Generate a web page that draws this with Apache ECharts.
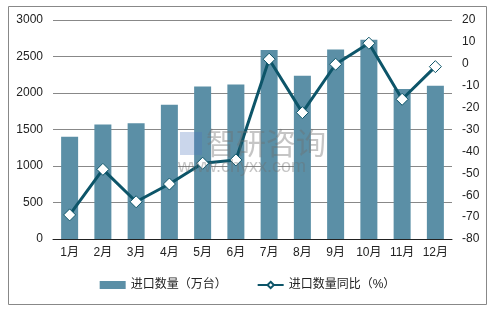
<!DOCTYPE html>
<html><head><meta charset="utf-8">
<script src="https://cdn.jsdelivr.net/npm/echarts@6/dist/echarts.min.js"></script>
<style>html,body{margin:0;padding:0;background:#fff}#c{width:495px;height:310px}</style>
</head><body><div id="c"></div>
<script>
const categories = ['1月','2月','3月','4月','5月','6月','7月','8月','9月','10月','11月','12月'];
const importQty = [1400, 1570, 1585, 1840, 2090, 2115, 2590, 2235, 2595, 2730, 2055, 2100];
const importYoY = [-69, -48.2, -63, -54.9, -45.4, -43.9, 2.1, -22.3, -0.2, 9.4, -16.2, -1.3];
const leftTicks = {min: 0, max: 3000, interval: 500};
const rightTicks = {min: -80, max: 20, interval: 10};
const seriesNames = ['进口数量（万台）', '进口数量同比（%）'];

const font = 'Arial, "Noto Sans CJK SC", sans-serif';
const chart = echarts.init(document.getElementById('c'));
chart.setOption({
  animation: false,
  backgroundColor: '#fff',
  graphic: [
    {type: 'rect', shape: {x: 8.5, y: 6.5, width: 478, height: 298}, style: {fill: 'none', stroke: '#888', lineWidth: 1}, z: -1},
    {type: 'text', left: 206, top: 128, style: {text: '智研咨询', font: '30px "Noto Sans CJK SC"', fill: 'rgba(110,110,110,0.4)'}, z: 100},
    {type: 'text', left: 178, top: 158, style: {text: 'www.chyxx.com', font: '18px Arial', fill: 'rgba(110,110,110,0.4)'}, z: 100},
    {type: 'rect', shape: {x: 180, y: 132, width: 22, height: 23}, style: {fill: 'rgba(80,120,190,0.3)'}, z: 100}
  ],
  grid: {left: 53, right: 43, top: 20, bottom: 71},
  legend: {
    bottom: 14, left: 'center', itemGap: 30, itemWidth: 26, itemHeight: 8,
    textStyle: {fontSize: 12, color: '#222', fontFamily: font},
    data: [
      {name: seriesNames[0], icon: 'rect'},
      {name: seriesNames[1]}
    ]
  },
  xAxis: {
    type: 'category', data: categories,
    axisLine: {lineStyle: {color: '#222', width: 1}},
    axisTick: {show: false},
    axisLabel: {color: '#222', fontSize: 12, fontFamily: font, margin: 8}
  },
  yAxis: [
    {type: 'value', min: leftTicks.min, max: leftTicks.max, interval: leftTicks.interval,
     axisLine: {show: false}, axisTick: {show: false},
     axisLabel: {color: '#222', fontSize: 12, fontFamily: font, margin: 10, formatter: v => String(v)},
     splitLine: {lineStyle: {color: '#888', width: 1}}},
    {type: 'value', min: rightTicks.min, max: rightTicks.max, interval: rightTicks.interval,
     axisLine: {show: false}, axisTick: {show: false},
     axisLabel: {color: '#222', fontSize: 12, fontFamily: font, margin: 10, formatter: v => String(v)},
     splitLine: {show: false}}
  ],
  series: [
    {name: seriesNames[0], type: 'bar', data: importQty, barWidth: 17, yAxisIndex: 0,
     itemStyle: {color: '#5B8FA6'}},
    {name: seriesNames[1], type: 'line', data: importYoY, yAxisIndex: 1,
     symbol: 'diamond', symbolSize: 12, showAllSymbol: true,
     lineStyle: {color: '#0D5569', width: 3},
     itemStyle: {color: '#fff', borderColor: '#0D5569', borderWidth: 1}}
  ]
});
</script></body></html>
